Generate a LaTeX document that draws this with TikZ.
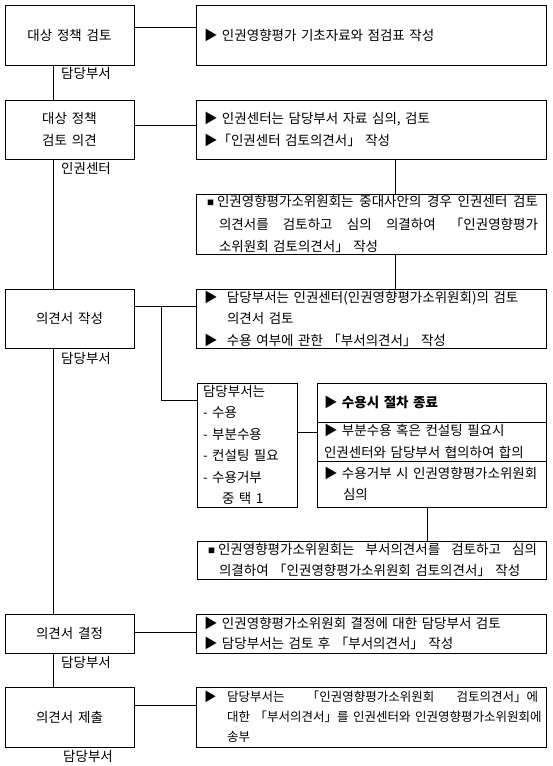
\documentclass[tikz,border=0pt]{standalone}
\usepackage{fontspec}
\setmainfont[WordSpace=1.6]{Noto Sans CJK KR}
\usepackage{tikz}

\newcommand{\sqmark}{\makebox[13pt][l]{\hspace{3pt}\raisebox{1.5pt}{\fontsize{7}{7}\selectfont ■}}}
\newcommand{\trimark}{\makebox[23pt][l]{▶}}
\newcommand{\fullline}[2]{\makebox[#1][s]{\spaceskip=4.5pt plus 1fil\relax #2}}

\tikzset{
  stepbox/.style={draw, line width=0.9pt, minimum width=129pt, inner sep=0pt, align=center},
  notebox/.style={draw, line width=0.9pt, text width=334pt, inner xsep=8pt, inner ysep=0pt, align=left},
  choicebox/.style={draw, line width=0.9pt, text width=215pt, inner xsep=7pt, inner ysep=0pt, align=left},
  listbox/.style={draw, line width=0.9pt, text width=88pt, inner xsep=6pt, inner ysep=0pt, align=left},
  who/.style={inner sep=0pt},
  link/.style={line width=0.9pt}
}

\begin{document}
\begin{tikzpicture}[x=1pt, y=-1pt, font=\fontsize{13.5}{21.5}\selectfont]
        \useasboundingbox (0,0) rectangle (552,766);
        \node[stepbox, minimum height=60pt] (A1) at (69.5,35) {대상 정책 검토};
        \node[stepbox, minimum height=59pt] (A2) at (69.5,129.5) {대상 정책\\검토 의견};
        \node[stepbox, minimum height=59pt] (A3) at (69.5,318.5) {의견서 작성};
        \node[stepbox, minimum height=39pt] (A4) at (69.5,633.5) {의견서 결정};
        \node[stepbox, minimum height=60pt] (A5) at (69.5,717) {의견서 제출};

        \node[who] (L1) at (86,73) {담당부서};
        \node[who] (L2) at (86,168) {인권센터};
        \node[who] (L3) at (86,358) {담당부서};
        \node[who] (L4) at (86,662) {담당부서};
        \node[who] (L5) at (88,756) {담당부서};

        \node[notebox, minimum height=60pt] (R1) at (371,35) {▶ 인권영향평가 기초자료와 점검표 작성};
        \node[notebox, minimum height=59pt] (R2) at (371,129.5)
            {▶ 인권센터는 담당부서 자료 심의, 검토\\▶「인권센터 검토의견서」 작성};
        \node[notebox, minimum height=60pt, font=\fontsize{13.5}{22.5}\selectfont] (R3) at (371,224)
            {\fullline{334pt}{\sqmark 인권영향평가소위원회는 중대사안의 경우 인권센터 검토}\\
             \hspace*{15pt}\fullline{319pt}{의견서를 검토하고 심의 의결하여 「인권영향평가}\\
             \hspace*{15pt}소위원회 검토의견서」 작성};
        \node[notebox, minimum height=59pt] (R4) at (371,318.5)
            {\trimark 담당부서는 인권센터(인권영향평가소위원회)의 검토\\\hspace*{23pt}의견서 검토\\
             \trimark 수용 여부에 관한 「부서의견서」 작성};
        \node[notebox, minimum height=39pt, font=\fontsize{13.5}{20.5}\selectfont] (R5) at (371,633.5)
            {▶ 인권영향평가소위원회 결정에 대한 담당부서 검토\\▶ 담당부서는 검토 후 「부서의견서」 작성};
        \node[notebox, minimum height=60pt, font=\fontsize{12.5}{20}\selectfont] (R6) at (371,717)
            {\fullline{334pt}{\trimark 담당부서는 「인권영향평가소위원회 검토의견서」에}\\
             \hspace*{23pt}\fullline{311pt}{대한 「부서의견서」를 인권센터와 인권영향평가소위원회에}\\
             \hspace*{23pt}송부};

        \node[listbox, minimum height=124pt] (B) at (247,445)
            {담당부서는\\- 수용\\- 부분수용\\- 컨설팅 필요\\- 수용거부\\\hspace*{19pt}중 택 1};
        \node[choicebox, minimum height=39pt] (C1) at (431.5,402.5) {\bfseries ▶ 수용시 절차 종료};
        \node[choicebox, minimum height=39pt] (C2) at (431.5,441.5)
            {▶ 부분수용 혹은 컨설팅 필요시\\인권센터와 담당부서 협의하여 합의};
        \node[choicebox, minimum height=46pt] (C3) at (431.5,484)
            {\mbox{▶ 수용거부 시 인권영향평가소위원회}\\\hspace*{19pt}심의};
        \node[notebox, text width=333pt, minimum height=38pt, font=\fontsize{13.5}{21}\selectfont] (D) at (371.5,560)
            {\fullline{332pt}{\sqmark 인권영향평가소위원회는 부서의견서를 검토하고 심의}\\
             \hspace*{14pt}의결하여 「인권영향평가소위원회 검토의견서」 작성};

        \coordinate (spine) at (53,0);
        \coordinate (rspine) at (395,0);
        \coordinate (dspine) at (427,0);
        \coordinate (fork) at (161,306);

        \draw[link] (A1.south -| spine) -- (A2.north -| spine);
        \draw[link] (A2.south -| spine) -- (A3.north -| spine);
        \draw[link] (A3.south -| spine) -- (A4.north -| spine);
        \draw[link] (A4.south -| spine) -- (A5.north -| spine);

        \draw[link] ([yshift=8pt]A1.east) -- ([yshift=8pt]R1.west);
        \draw[link] ([yshift=4.5pt]A2.east) -- ([yshift=4.5pt]R2.west);
        \draw[link] ([yshift=12.5pt]A3.east) -- ([yshift=12.5pt]R4.west);
        \draw[link] ([yshift=1.5pt]A4.east) -- ([yshift=1.5pt]R5.west);
        \draw[link] ([yshift=12pt]A5.east) -- ([yshift=12pt]R6.west);

        \draw[link] (R2.south -| rspine) -- (R3.north -| rspine);
        \draw[link] (R3.south -| rspine) -- (R4.north -| rspine);
        \draw[link] (fork) |- ([yshift=45pt]B.west);
        \draw[link] ([yshift=13pt]B.east) -- ([yshift=13pt]B.east -| C2.west);
        \draw[link] (C3.south -| dspine) -- (D.north -| dspine);
\end{tikzpicture}
\end{document}
